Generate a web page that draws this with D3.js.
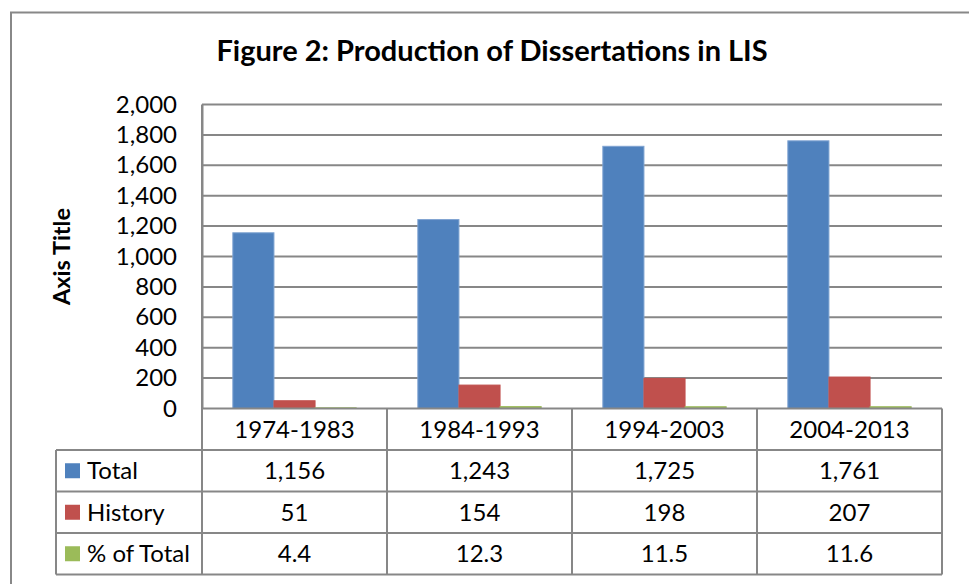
<!DOCTYPE html>
<html>
<head>
<meta charset="utf-8">
<script src="https://cdn.jsdelivr.net/npm/d3@7"></script>
<style>
  html, body { margin: 0; padding: 0; background: #fff; }
  svg { display: block; }
  text { font-family: Lato, "Open Sans", sans-serif; fill: #000; }
</style>
</head>
<body>
<svg id="chart" width="969" height="584"></svg>
<script>
// ---- data ----
const categories = ["1974-1983", "1984-1993", "1994-2003", "2004-2013"];
const seriesNames = ["Total", "History", "% of Total"];
const totalValues = [1156, 1243, 1725, 1761];
const historyValues = [51, 154, 198, 207];
const percentValues = [4.4, 12.3, 11.5, 11.6];
const tableLabels = [["1,156", "1,243", "1,725", "1,761"], ["51", "154", "198", "207"], ["4.4", "12.3", "11.5", "11.6"]];
const yTicks = [0, 200, 400, 600, 800, 1000, 1200, 1400, 1600, 1800, 2000];
const seriesColors = ["#4F81BD", "#C0504D", "#9BBB59"];
const seriesStroke = ["#7FA3D1", "#C0504D", "#9BBB59"];
const titleText = "Figure 2: Production of Dissertations in LIS";
const axisTitleText = "Axis Title";

const seriesValues = [totalValues, historyValues, percentValues];

const svg = d3.select("#chart");
const gridColor = "#878787";

// layout
const plot = { left: 202, right: 942, top: 104.5, bottom: 408.5 };
const rowH = 41.5;
const legendLeft = 56;

// outer frame
svg.append("path")
  .attr("d", `M11,584 L11,12.5 L969,12.5`)
  .attr("fill", "none").attr("stroke", "#888").attr("stroke-width", 2);

// scales
const x0 = d3.scaleBand().domain(categories).range([plot.left, plot.right]).padding(0);
const bw = x0.bandwidth();
const barW = bw / (seriesNames.length + 1.5);
const x1 = d3.scaleBand().domain(seriesNames).range([barW * 0.75, bw - barW * 0.75]).padding(0);
const y = d3.scaleLinear().domain([0, 2000]).range([plot.bottom, plot.top]);

// title
svg.append("text")
  .attr("x", 492).attr("y", 61)
  .attr("text-anchor", "middle")
  .attr("font-size", 29).attr("font-weight", "bold")
  .text(titleText);

// axis title
svg.append("text")
  .attr("transform", `translate(70,${(plot.top + plot.bottom) / 2}) rotate(-90)`)
  .attr("text-anchor", "middle")
  .attr("font-size", 23.5).attr("font-weight", "bold")
  .text(axisTitleText);

// gridlines
svg.append("g").selectAll("line").data(yTicks.filter(d => d > 0)).join("line")
  .attr("x1", plot.left).attr("x2", plot.right)
  .attr("y1", d => y(d)).attr("y2", d => y(d))
  .attr("stroke", gridColor).attr("stroke-width", 2);

// y axis
const yAxis = d3.axisLeft(y).tickValues(yTicks).tickSize(0).tickPadding(25)
  .tickFormat(d3.format(","));
const gy = svg.append("g").attr("transform", `translate(${plot.left},0)`).call(yAxis);
gy.select(".domain").attr("stroke", gridColor).attr("stroke-width", 2);
gy.selectAll("text").attr("font-size", 24).attr("font-family", "Lato, sans-serif").attr("fill", "#000");

// bars
const groups = svg.append("g").selectAll("g").data(categories).join("g")
  .attr("transform", d => `translate(${x0(d)},0)`);
groups.selectAll("rect")
  .data((c, ci) => seriesNames.map((s, si) => ({ s, si, v: seriesValues[si][ci] })))
  .join("rect")
  .attr("x", d => x1(d.s))
  .attr("width", x1.bandwidth())
  .attr("y", d => y(d.v))
  .attr("height", d => y(0) - y(d.v))
  .attr("fill", d => seriesColors[d.si])
  .attr("stroke", d => seriesStroke[d.si])
  .attr("stroke-width", 1);

// data table
const tableTop = plot.bottom;
const tableBottom = tableTop + rowH * 4;
const tg = svg.append("g");
tg.append("line").attr("x1", plot.left).attr("x2", plot.right)
  .attr("y1", tableTop).attr("y2", tableTop);
for (let r = 1; r <= 4; r++) {
  tg.append("line").attr("x1", legendLeft).attr("x2", plot.right)
    .attr("y1", tableTop + rowH * r).attr("y2", tableTop + rowH * r);
}
tg.append("line").attr("x1", legendLeft).attr("x2", legendLeft)
  .attr("y1", tableTop + rowH).attr("y2", tableBottom);
[plot.left, ...categories.map(c => x0(c) + bw)].forEach(xv => {
  tg.append("line").attr("x1", xv).attr("x2", xv)
    .attr("y1", xv === plot.left ? plot.top : tableTop).attr("y2", tableBottom);
});
tg.selectAll("line").attr("stroke", gridColor).attr("stroke-width", 2);

const tableFont = 24;
// header labels
svg.append("g").selectAll("text").data(categories).join("text")
  .attr("x", d => x0(d) + bw / 2)
  .attr("y", tableTop + rowH / 2)
  .attr("dy", "0.36em")
  .attr("text-anchor", "middle")
  .attr("font-size", tableFont)
  .text(d => d);

// rows
seriesNames.forEach((s, si) => {
  const cy = tableTop + rowH * (si + 1) + rowH / 2;
  svg.append("rect").attr("x", 65).attr("y", cy - 7.5).attr("width", 15).attr("height", 15)
    .attr("fill", seriesColors[si]);
  svg.append("text").attr("x", 87).attr("y", cy).attr("dy", "0.36em")
    .attr("font-size", tableFont).text(s);
  svg.append("g").selectAll("text").data(categories).join("text")
    .attr("x", d => x0(d) + bw / 2)
    .attr("y", cy).attr("dy", "0.36em")
    .attr("text-anchor", "middle")
    .attr("font-size", tableFont)
    .text((d, ci) => tableLabels[si][ci]);
});
</script>
</body>
</html>
